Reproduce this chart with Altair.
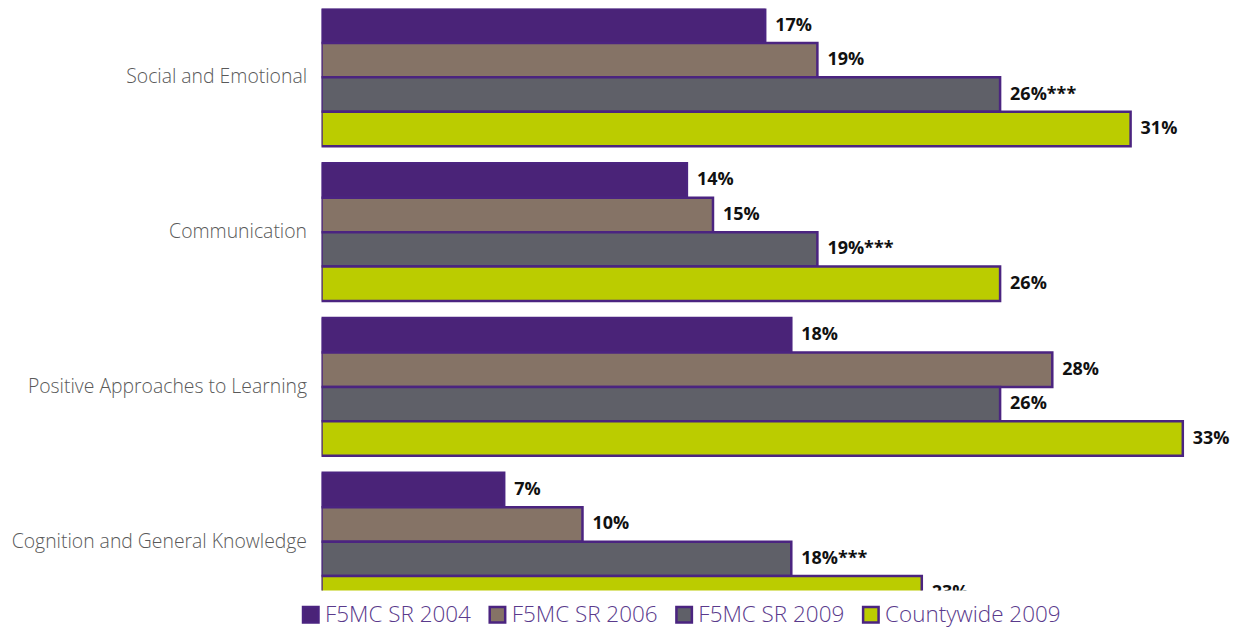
import altair as alt
import pandas as pd

categories = ["Social and Emotional", "Communication",
              "Positive Approaches to Learning", "Cognition and General Knowledge"]
series = ["F5MC SR 2004", "F5MC SR 2006", "F5MC SR 2009", "Countywide 2009"]
v2004 = [17, 14, 18, 7]
v2006 = [19, 15, 28, 10]
v2009 = [26, 19, 26, 18]
vcounty = [31, 26, 33, 23]
sig2009 = [True, True, False, True]
colors = ["#4A2378", "#857366", "#5F6068", "#BBCC00"]

rows = []
for s, vals in zip(series, [v2004, v2006, v2009, vcounty]):
    for i, (c, v) in enumerate(zip(categories, vals)):
        lab = f"{v}%"
        if s == "F5MC SR 2009" and sig2009[i]:
            lab += "***"
        rows.append({"category": c, "series": s, "value": v, "label": lab})
df = pd.DataFrame(rows)

y = alt.Y("category:N", sort=categories, title=None,
          scale=alt.Scale(range=[0, 603], paddingInner=0.11, paddingOuter=0),
          axis=alt.Axis(domain=False, ticks=False, grid=False, labelPadding=15,
                        labelFontSize=19.4, labelColor="#595959", labelFont="Open Sans",
                        labelFontWeight=300, minExtent=314, maxExtent=314, labelLimit=400))
yoff = alt.YOffset("series:N", sort=series, scale=alt.Scale(paddingInner=0, paddingOuter=0))
x = alt.X("value:Q", scale=alt.Scale(domain=[0, 35], nice=False), axis=None)

bars = alt.Chart(df).mark_bar(clip=True, stroke="#4B2480", strokeWidth=2.5, cornerRadius=0).encode(
    y=y, yOffset=yoff, x=x,
    color=alt.Color("series:N", sort=series,
                    scale=alt.Scale(domain=series, range=colors),
                    legend=alt.Legend(title=None, orient="none", direction="horizontal",
                                      columns=4, legendX=-22, legendY=596,
                                      symbolType="square", symbolSize=240,
                                      symbolStrokeColor="#4B2480", symbolStrokeWidth=2.5,
                                      symbolOpacity=1,
                                      labelFont="Open Sans", labelFontWeight=300,
                                      labelFontSize=22.5, labelColor="#5A3A8C",
                                      labelOffset=3, columnPadding=13, padding=0,
                                      labelLimit=300)),
)

texts = alt.Chart(df).mark_text(clip=True, align="left", baseline="middle", dx=10,
                                font="Open Sans", fontWeight="bold", fontSize=18,
                                color="#111111").encode(
    y=y, yOffset=yoff, x=x, text="label:N")

chart = (bars + texts).properties(width=915, height=583, padding=0).configure_view(stroke=None)

chart.save("out.html", embed_options={"renderer": "svg", "actions": False})
